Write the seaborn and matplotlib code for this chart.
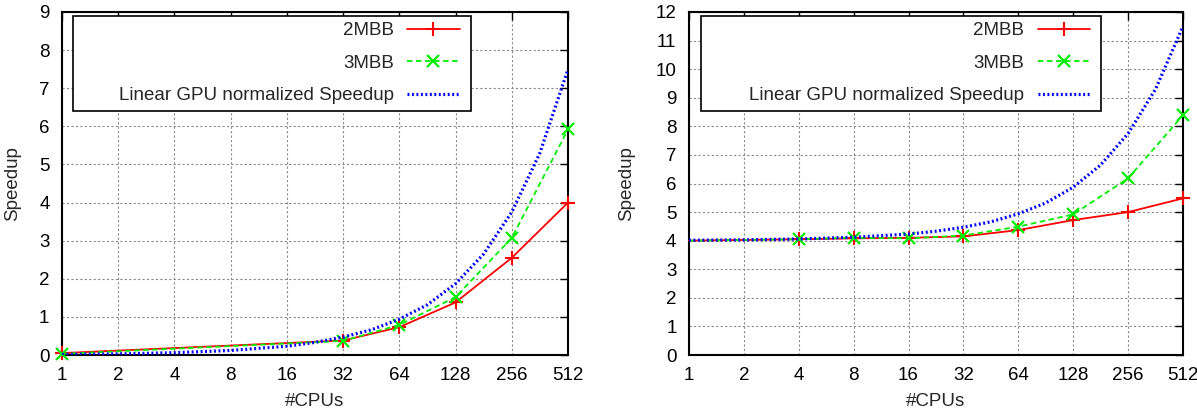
import numpy as np
import pandas as pd
import matplotlib
matplotlib.use("Agg")
import matplotlib.pyplot as plt
from matplotlib.patches import Rectangle
import seaborn as sns

# values
cpus_left = [1, 32, 64, 128, 256, 512]
mbb2_left = [0.05, 0.38, 0.73, 1.38, 2.55, 4.0]
mbb3_left = [0.03, 0.37, 0.79, 1.52, 3.07, 5.92]

cpus_right = [1, 4, 8, 16, 32, 64, 128, 256, 512]
mbb2_right = [4.0, 4.05, 4.08, 4.1, 4.15, 4.37, 4.72, 5.0, 5.48]
mbb3_right = [4.0, 4.05, 4.1, 4.08, 4.18, 4.49, 4.92, 6.18, 8.39]

cpus_linear = [1, 2, 4, 8, 16, 22.6, 32, 45.3, 64, 90.5, 128, 181, 256, 362, 512]
linear_left = [0.015, 0.03, 0.06, 0.12, 0.23, 0.33, 0.47, 0.66, 0.94, 1.32, 1.87, 2.65, 3.75, 5.3, 7.5]
linear_right = [4.015, 4.03, 4.06, 4.12, 4.23, 4.33, 4.47, 4.66, 4.94, 5.32, 5.87, 6.65, 7.75, 9.3, 11.5]

xticks = [1, 2, 4, 8, 16, 32, 64, 128, 256, 512]
series_names = ["2MBB", "3MBB", "Linear GPU normalized Speedup"]

sns.set_style("white")
plt.rcParams['font.family'] = ['Liberation Sans', 'DejaVu Sans']
plt.rcParams['font.size'] = 13

fig = plt.figure(figsize=(11.97, 4.09), dpi=100)
W, H = 1197, 409
ax1 = fig.add_axes([62 / W, 1 - 355 / H, (568 - 62) / W, (355 - 12) / H])
ax2 = fig.add_axes([689 / W, 1 - 355 / H, (1183 - 689) / W, (355 - 12) / H])


def draw(ax, cpus, mbb2, mbb3, linear, ymax, skip_first, ylab_x, x0, x1):
    df2 = pd.DataFrame({"cpus": cpus, "speedup": mbb2})
    df3 = pd.DataFrame({"cpus": cpus, "speedup": mbb3})
    dfl = pd.DataFrame({"cpus": cpus_linear, "speedup": linear})
    mk = list(range(1, len(cpus))) if skip_first else None
    sns.lineplot(data=df2, x="cpus", y="speedup", ax=ax, color="#ff0000", lw=1.3,
                 marker="+", markersize=10, markeredgewidth=1.5, markeredgecolor="#ff0000",
                 markevery=mk, label=series_names[0], clip_on=False, zorder=3)
    sns.lineplot(data=df3, x="cpus", y="speedup", ax=ax, color="#00ee00", lw=1.3,
                 linestyle=(0, (3, 2)), marker="x", markersize=9, markeredgewidth=1.6,
                 markeredgecolor="#00ee00", markevery=mk, label=series_names[1],
                 clip_on=False, zorder=4)
    sns.lineplot(data=dfl, x="cpus", y="speedup", ax=ax, color="#0000ff", lw=2.3,
                 linestyle=(0, (0.6, 0.8)), label=series_names[2], zorder=5)

    ax.set_xscale("log", base=2)
    ax.set_xlim(1, 512)
    ax.set_ylim(0, ymax)
    ax.set_xticks(xticks)
    ax.set_xticklabels([str(t) for t in xticks])
    ax.xaxis.set_minor_locator(matplotlib.ticker.NullLocator())
    ax.set_yticks(range(0, ymax + 1))
    ax.tick_params(direction="in", top=True, right=True, length=6, width=1,
                   labelsize=13.5, colors="black", pad=9)
    ax.grid(True, color="#8a8a8a", linestyle=(0, (2, 2)), lw=0.8, zorder=0)
    for sp in ax.spines.values():
        sp.set_color("black")
        sp.set_linewidth(1.5)
    ax.set_xlabel("#CPUs", fontsize=13.5)
    ax.set_ylabel("Speedup", fontsize=13.5)
    ax.xaxis.set_label_coords(0.5, -0.112)
    ax.yaxis.set_label_coords(ylab_x, 0.5)

    # legend box (gnuplot style: wide frame, entries pushed to the right)
    w_ax = x1 - x0
    box = Rectangle((x0, (355 - 111) / 343), w_ax, (111 - 16) / 343,
                    transform=ax.transAxes, facecolor="white", edgecolor="black",
                    lw=1.2, zorder=9, clip_on=False)
    ax.add_patch(box)
    leg = ax.legend(loc="upper right", bbox_to_anchor=(x1 - 11 / 494, (355 - 22) / 343),
                    borderaxespad=0, markerfirst=False, fontsize=13.5, frameon=False,
                    borderpad=0, labelspacing=0.82, handlelength=2.8, handletextpad=0.7,
                    numpoints=1)
    leg.set_zorder(10)


draw(ax1, cpus_left, mbb2_left, mbb3_left, linear_left, 9, False, -0.08,
     (73 - 62) / 506, (471 - 62) / 506)
draw(ax2, cpus_right, mbb2_right, mbb3_right, linear_right, 12, True, -0.11,
     (701 - 689) / 494, (1101 - 689) / 494)

fig.savefig("out.png", dpi=100)
